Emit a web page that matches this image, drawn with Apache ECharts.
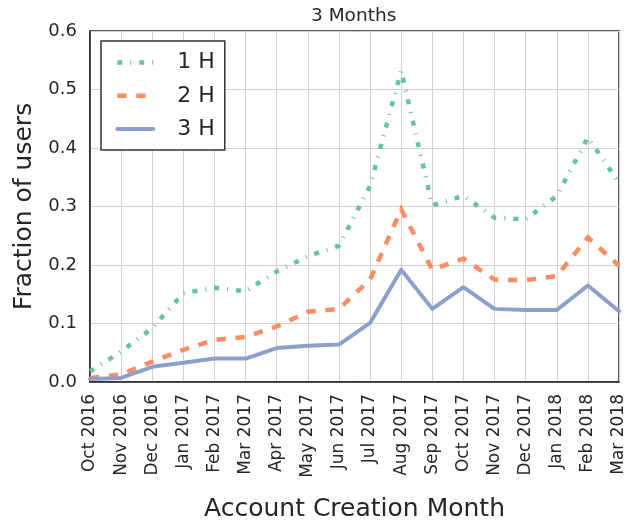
<!DOCTYPE html>
<html>
<head>
<meta charset="utf-8">
<script src="https://cdn.jsdelivr.net/npm/echarts@6/dist/echarts.min.js"></script>
<style>
html,body{margin:0;padding:0;background:#fff;}
#chart{width:637px;height:522px;}
</style>
</head>
<body>
<div id="chart"></div>
<script>
const months = ['Oct 2016','Nov 2016','Dec 2016','Jan 2017','Feb 2017','Mar 2017','Apr 2017','May 2017','Jun 2017','Jul 2017','Aug 2017','Sep 2017','Oct 2017','Nov 2017','Dec 2017','Jan 2018','Feb 2018','Mar 2018'];
const h1 = [0.018,0.052,0.092,0.152,0.161,0.155,0.189,0.215,0.233,0.335,0.532,0.302,0.318,0.281,0.278,0.318,0.418,0.341];
const h2 = [0.007,0.013,0.035,0.055,0.072,0.077,0.095,0.120,0.125,0.175,0.295,0.192,0.211,0.175,0.174,0.181,0.247,0.199];
const h3 = [0.005,0.007,0.026,0.033,0.040,0.040,0.058,0.062,0.064,0.101,0.192,0.125,0.162,0.125,0.123,0.123,0.165,0.121];
const yTicks = [0, 0.1, 0.2, 0.3, 0.4, 0.5, 0.6];
const seriesNames = ['1 H','2 H','3 H'];

const FONT = 'DejaVu Sans';
const TXT = '#262626';
const chart = echarts.init(document.getElementById('chart'), null, {renderer:'canvas'});
chart.setOption({
  animation: false,
  backgroundColor: '#fff',
  textStyle: {fontFamily: FONT, color: TXT},
  title: {
    text: '3 Months',
    left: 311, top: 7, padding: 0,
    textStyle: {fontFamily: FONT, fontSize: 18.5, fontWeight: 'normal', color: TXT}
  },
  grid: {
    left: 90, right: 18, top: 31, bottom: 140,
    containLabel: false, outerBoundsMode: 'none',
    show: true, borderColor: TXT, borderWidth: 1.5, backgroundColor: 'transparent'
  },
  legend: {
    data: seriesNames,
    orient: 'vertical',
    left: 101, top: 41,
    padding: [10.5, 10, 10, 14],
    itemGap: 11.3,
    itemWidth: 36, itemHeight: 22,
    borderColor: '#333', borderWidth: 1.5, borderRadius: 0,
    backgroundColor: '#fff',
    itemStyle: {opacity: 0},
    lineStyle: {width: 'inherit', opacity: 1},
    formatter: '{a|{name}}',
    textStyle: {
      fontFamily: FONT, fontSize: 22, color: TXT,
      rich: {a: {fontFamily: FONT, fontSize: 22, color: TXT, lineHeight: 22, padding: [0,0,0,19]}}
    }
  },
  xAxis: {
    type: 'category',
    data: months,
    boundaryGap: false,
    name: 'Account Creation Month',
    nameLocation: 'middle',
    nameGap: 115,
    nameTextStyle: {fontFamily: FONT, fontSize: 25, color: TXT},
    axisLine: {show: true, lineStyle: {color: TXT, width: 1.5}},
    axisTick: {show: false},
    axisLabel: {rotate: 90, fontSize: 17, fontFamily: FONT, color: TXT, margin: 12, interval: 0},
    splitLine: {show: true, lineStyle: {color: '#d0d0d0', width: 1}}
  },
  yAxis: {
    type: 'value',
    min: yTicks[0], max: yTicks[yTicks.length-1], interval: 0.1,
    name: 'Fraction of users',
    nameLocation: 'middle',
    nameGap: 50,
    nameTextStyle: {fontFamily: FONT, fontSize: 25, color: TXT},
    axisLine: {show: true, lineStyle: {color: TXT, width: 1.5}},
    axisTick: {show: false},
    axisLabel: {fontSize: 18, fontFamily: FONT, color: TXT, margin: 13, formatter: v => v.toFixed(1)},
    splitLine: {show: true, lineStyle: {color: '#d0d0d0', width: 1}}
  },
  series: [
    {name: seriesNames[0], type: 'line', data: h1, symbol: 'none', showSymbol: false,
     itemStyle: {color: '#66c2a5'},
     lineStyle: {color: '#66c2a5', width: 4.5, type: [5, 8, 1, 8], cap: 'butt', join: 'miter'}},
    {name: seriesNames[1], type: 'line', data: h2, symbol: 'none', showSymbol: false,
     itemStyle: {color: '#fc8d62'},
     lineStyle: {color: '#fc8d62', width: 4.5, type: [9.3, 9.7], cap: 'butt', join: 'miter'}},
    {name: seriesNames[2], type: 'line', data: h3, symbol: 'none', showSymbol: false,
     itemStyle: {color: '#8da0cb'},
     lineStyle: {color: '#8da0cb', width: 4, cap: 'round', join: 'round'}}
  ]
});
</script>
</body>
</html>
